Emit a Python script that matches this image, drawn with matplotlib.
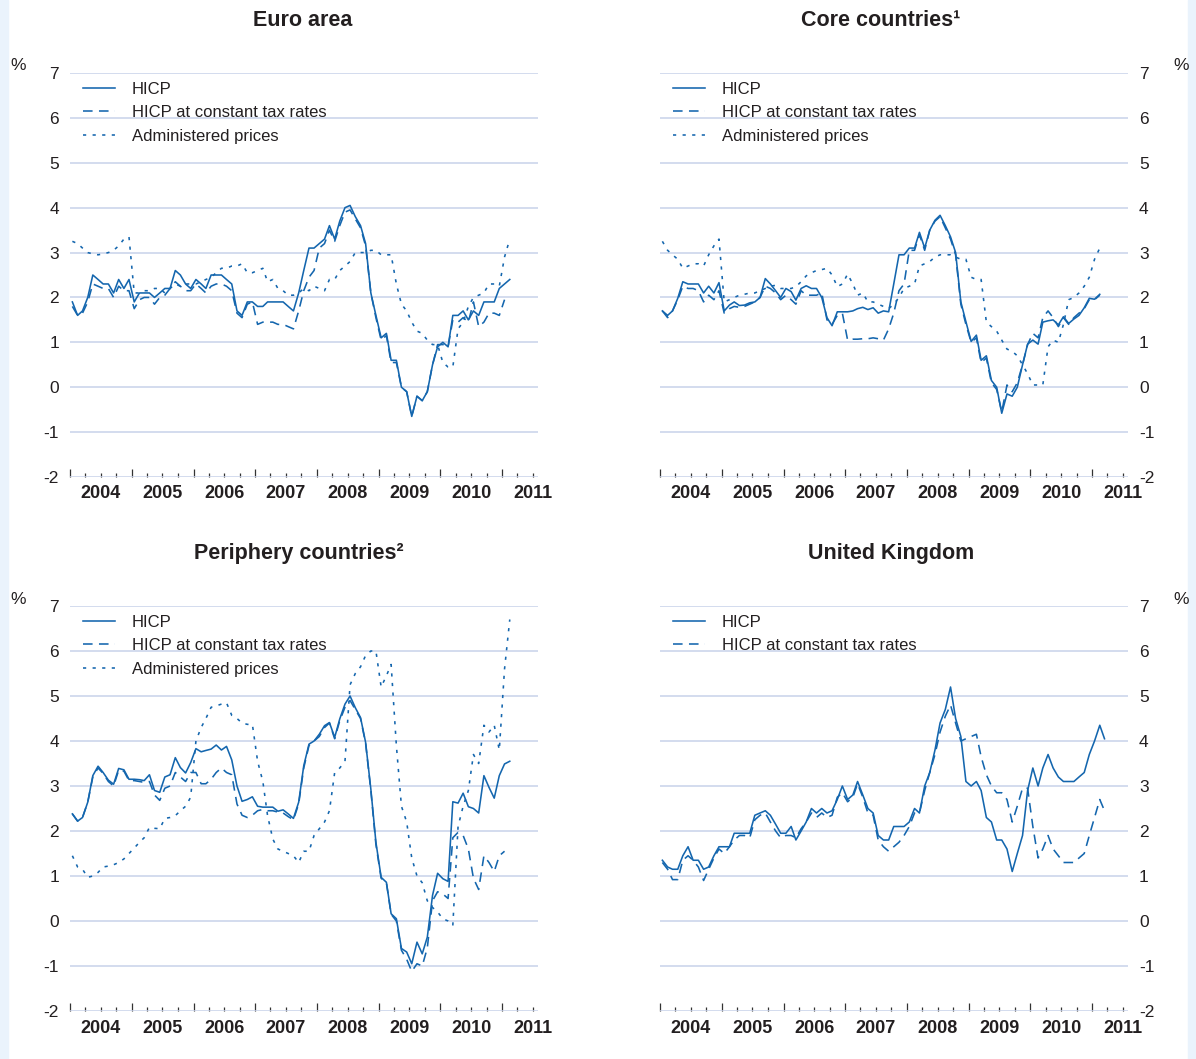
import numpy as np
import pandas as pd
import matplotlib
matplotlib.use('Agg')
import matplotlib.pyplot as plt
import matplotlib.dates as mdates
from matplotlib.patches import Rectangle
from matplotlib.transforms import blended_transform_factory

plt.rcParams['font.family'] = ['Liberation Sans', 'DejaVu Sans']
plt.rcParams['axes.unicode_minus'] = False

nan = np.nan

'''Monthly year-on-year rates, from Jan 2004'''
ea_hicp = [1.9, 1.6, 1.7, 2.0, 2.5, 2.4, 2.3, 2.3, 2.1, 2.4, 2.2, 2.4,
           1.9, 2.1, 2.1, 2.1, 2.0, 2.1, 2.2, 2.2, 2.6, 2.5, 2.3, 2.2,
           2.4, 2.3, 2.2, 2.5, 2.5, 2.5, 2.4, 2.3, 1.7, 1.6, 1.9, 1.9,
           1.8, 1.8, 1.9, 1.9, 1.9, 1.9, 1.8, 1.7, 2.1, 2.6, 3.1, 3.1,
           3.2, 3.3, 3.6, 3.3, 3.7, 4.0, 4.05, 3.8, 3.6, 3.2, 2.1, 1.6,
           1.1, 1.2, 0.6, 0.6, 0.0, -0.1, -0.65, -0.2, -0.3, -0.1, 0.5, 0.9,
           1.0, 0.9, 1.6, 1.6, 1.7, 1.5, 1.7, 1.6, 1.9, 1.9, 1.9, 2.2,
           2.3, 2.4]
ea_const = [1.8, 1.6, 1.65, 1.9, 2.3, 2.25, 2.2, 2.2, 2.0, 2.25, 2.15, 2.15,
            1.75, 1.95, 2.0, 2.0, 1.85, 2.0, 2.05, 2.2, 2.35, 2.25, 2.15, 2.15,
            2.3, 2.2, 2.1, 2.25, 2.3, 2.3, 2.25, 2.15, 1.65, 1.55, 1.85, 1.9,
            1.4, 1.45, 1.45, 1.45, 1.4, 1.4, 1.35, 1.3, 1.7, 2.15, 2.45, 2.6,
            3.1, 3.2, 3.5, 3.25, 3.6, 3.9, 3.95, 3.75, 3.55, 3.15, 2.1, 1.55,
            1.05, 1.15, 0.55, 0.55, 0.0, -0.1, -0.65, -0.2, -0.3, -0.1, 0.5, 0.95,
            0.95, 0.9, 1.5, 1.45, 1.55, 1.45, 1.9, 1.35, 1.45, 1.65, 1.65, 1.6,
            1.95, nan]
ea_admin = [3.25, 3.2, 3.1, 3.0, 2.97, 2.95, 2.97, 3.0, 3.05, 3.15, 3.3, 3.35,
            2.1, 2.1, 2.15, 2.15, 2.2, 2.2, 2.1, 2.2, 2.3, 2.25, 2.3, 2.3,
            2.3, 2.35, 2.4, 2.45, 2.55, 2.65, 2.65, 2.7, 2.7, 2.75, 2.55, 2.55,
            2.6, 2.65, 2.35, 2.4, 2.2, 2.15, 2.05, 2.05, 2.1, 2.2, 2.15, 2.25,
            2.2, 2.15, 2.4, 2.4, 2.6, 2.7, 2.8, 3.0, 3.0, 3.0, 3.05, 3.05,
            2.95, 2.95, 2.95, 2.3, 1.85, 1.7, 1.45, 1.25, 1.2, 1.05, 0.95, 0.95,
            0.55, 0.45, 0.45, 1.3, 1.45, 1.8, 2.0, 2.05, 2.1, 2.3, 2.3, 2.25,
            2.9, 3.3]

core_hicp = [1.7, 1.6, 1.7, 1.98, 2.35, 2.3, 2.3, 2.3, 2.1, 2.25, 2.1, 2.33,
             1.7, 1.83, 1.9, 1.82, 1.83, 1.88, 1.9, 2.0, 2.42, 2.3, 2.15, 2.0,
             2.2, 2.13, 1.94, 2.2, 2.26, 2.2, 2.2, 2.0, 1.55, 1.37, 1.68, 1.68,
             1.68, 1.7, 1.75, 1.78, 1.73, 1.77, 1.65, 1.7, 1.68, 2.3, 2.95, 2.95,
             3.1, 3.1, 3.45, 3.1, 3.5, 3.72, 3.83, 3.6, 3.35, 3.0, 1.9, 1.46,
             1.02, 1.16, 0.6, 0.7, 0.15, 0.0, -0.58, -0.15, -0.2, 0.0, 0.5, 0.96,
             1.05, 0.96, 1.45, 1.48, 1.5, 1.39, 1.57, 1.42, 1.52, 1.6, 1.77, 1.98,
             1.96, 2.07]
core_const = [1.7, 1.55, 1.7, 1.95, 2.25, 2.2, 2.2, 2.15, 1.9, 2.05, 1.95, 2.15,
              1.65, 1.75, 1.8, 1.78, 1.8, 1.85, 1.9, 2.0, 2.25, 2.2, 2.1, 1.95,
              2.05, 1.95, 1.85, 2.15, 2.05, 2.05, 2.05, 2.1, 1.5, 1.4, 1.6, 1.65,
              1.05, 1.07, 1.07, 1.08, 1.08, 1.1, 1.08, 1.05, 1.3, 1.65, 2.15, 2.3,
              3.05, 3.05, 3.4, 3.05, 3.5, 3.7, 3.8, 3.55, 3.3, 2.95, 1.85, 1.4,
              1.0, 1.1, 0.55, 0.65, 0.1, -0.05, -0.55, 0.05, -0.1, 0.1, 0.5, 0.95,
              1.2, 1.1, 1.55, 1.7, 1.55, 1.35, 1.55, 1.4, 1.55, 1.65, 1.75, 1.95,
              1.95, 2.05]
core_admin = [3.25, 3.05, 2.95, 2.85, 2.65, 2.7, 2.75, 2.75, 2.7, 2.95, 3.15, 3.3,
              1.9, 1.95, 2.0, 2.05, 2.07, 2.1, 2.1, 2.15, 2.2, 2.25, 2.27, 2.2,
              2.2, 2.2, 2.24, 2.35, 2.48, 2.55, 2.6, 2.62, 2.65, 2.5, 2.24, 2.3,
              2.52, 2.3, 2.05, 2.1, 1.9, 1.9, 1.85, 1.8, 1.75, 1.85, 2.0, 2.2,
              2.25, 2.3, 2.7, 2.75, 2.8, 2.9, 2.95, 2.95, 2.95, 2.9, 2.85, 2.85,
              2.45, 2.4, 2.4, 1.45, 1.35, 1.25, 1.05, 0.85, 0.8, 0.7, 0.5, 0.3,
              0.05, 0.05, 0.05, 0.9, 1.05, 1.0, 1.4, 1.95, 2.0, 2.1, 2.25, 2.45,
              2.85, 3.1]

per_hicp = [2.38, 2.22, 2.3, 2.64, 3.23, 3.44, 3.3, 3.13, 3.04, 3.39, 3.36, 3.15,
            3.15, 3.14, 3.12, 3.25, 2.9, 2.86, 3.2, 3.25, 3.63, 3.41, 3.29, 3.52,
            3.83, 3.76, 3.79, 3.82, 3.91, 3.8, 3.88, 3.58, 3.0, 2.66, 2.7, 2.76,
            2.55, 2.53, 2.53, 2.53, 2.44, 2.47, 2.38, 2.28, 2.64, 3.45, 3.93, 4.0,
            4.15, 4.34, 4.41, 4.08, 4.49, 4.82, 5.0, 4.74, 4.52, 3.97, 2.93, 1.75,
            0.97, 0.86, 0.16, 0.05, -0.61, -0.69, -0.95, -0.47, -0.73, -0.36, 0.57, 1.06,
            0.94, 0.88, 2.65, 2.62, 2.84, 2.54, 2.5, 2.4, 3.23, 2.97, 2.73, 3.23,
            3.49, 3.55]
per_const = [2.38, 2.22, 2.3, 2.64, 3.2, 3.4, 3.28, 3.1, 3.0, 3.35, 3.33, 3.12,
             3.12, 3.1, 3.08, 3.1, 2.8, 2.68, 2.95, 3.0, 3.3, 3.2, 3.1, 3.3,
             3.3, 3.05, 3.05, 3.15, 3.3, 3.4, 3.3, 3.25, 2.6, 2.35, 2.3, 2.35,
             2.45, 2.48, 2.45, 2.45, 2.42, 2.4, 2.32, 2.25, 2.6, 3.4, 3.9, 4.0,
             4.1, 4.3, 4.4, 4.05, 4.45, 4.75, 4.9, 4.7, 4.5, 3.95, 2.9, 1.7,
             0.95, 0.85, 0.15, 0.0, -0.65, -0.85, -1.12, -0.95, -1.0, -0.6, 0.45, 0.65,
             0.6, 0.5, 1.85, 1.97, 1.9, 1.6, 0.95, 0.7, 1.45, 1.3, 1.1, 1.45,
             1.55, nan]
per_admin = [1.45, 1.2, 1.15, 0.97, 1.0, 1.08, 1.2, 1.22, 1.25, 1.3, 1.38, 1.5,
             1.62, 1.75, 1.85, 2.08, 2.06, 2.05, 2.28, 2.3, 2.34, 2.45, 2.55, 2.75,
             4.0, 4.3, 4.5, 4.75, 4.78, 4.82, 4.85, 4.57, 4.5, 4.4, 4.37, 4.37,
             3.55, 3.1, 2.34, 1.82, 1.6, 1.55, 1.5, 1.45, 1.3, 1.55, 1.55, 1.9,
             2.05, 2.2, 2.45, 3.3, 3.4, 3.55, 5.25, 5.5, 5.65, 5.9, 6.0, 6.0,
             5.2, 5.45, 5.7, 3.9, 2.55, 2.2, 1.4, 1.0, 0.85, 0.45, 0.3, 0.2,
             0.05, 0.0, -0.1, 2.1, 2.55, 2.9, 3.7, 3.5, 4.35, 4.2, 4.35, 3.8,
             5.6, 6.7]

uk_hicp = [1.35, 1.2, 1.15, 1.15, 1.45, 1.65, 1.35, 1.35, 1.15, 1.2, 1.45, 1.65,
           1.65, 1.65, 1.95, 1.95, 1.95, 1.95, 2.35, 2.4, 2.45, 2.35, 2.15, 1.95,
           1.95, 2.1, 1.8, 2.0, 2.2, 2.5, 2.4, 2.5, 2.4, 2.45, 2.7, 3.0,
           2.7, 2.8, 3.1, 2.8, 2.5, 2.4, 1.9, 1.8, 1.8, 2.1, 2.1, 2.1,
           2.2, 2.5, 2.4, 3.0, 3.3, 3.8, 4.4, 4.7, 5.2, 4.5, 4.1, 3.1,
           3.0, 3.1, 2.9, 2.3, 2.2, 1.8, 1.8, 1.6, 1.1, 1.5, 1.9, 2.9,
           3.4, 3.0, 3.4, 3.7, 3.4, 3.2, 3.1, 3.1, 3.1, 3.2, 3.3, 3.7,
           4.0, 4.35, 4.05]
uk_const = [1.3, 1.15, 0.92, 0.92, 1.35, 1.45, 1.35, 1.2, 0.9, 1.15, 1.4, 1.6,
            1.5, 1.65, 1.8, 1.9, 1.9, 1.85, 2.25, 2.35, 2.4, 2.2, 2.0, 1.85,
            1.9, 1.9, 1.85, 2.05, 2.2, 2.4, 2.3, 2.4, 2.3, 2.35, 2.75, 2.85,
            2.65, 2.75, 3.05, 2.75, 2.4, 2.35, 1.8, 1.65, 1.55, 1.65, 1.75, 1.9,
            2.1, 2.4, 2.4, 2.9, 3.3, 3.7, 4.2, 4.55, 4.8, 4.4, 4.0, 4.05,
            4.1, 4.15, 3.65, 3.25, 3.0, 2.85, 2.85, 2.7, 2.2, 2.55, 2.95, 2.95,
            2.1, 1.4, 1.6, 1.9, 1.6, 1.45, 1.3, 1.3, 1.3, 1.4, 1.5, 1.9,
            2.3, 2.7, 2.45]

labels = ['HICP', 'HICP at constant tax rates', 'Administered prices']
styles = ['-', (0, (6, 4)), (0, (2, 4))]
years = list(range(2004, 2012))

BLUE = '#1466ae'
GRID = '#c8d2ea'
TXT = '#231f20'
W, H = 1196, 1059

fig = plt.figure(figsize=(W / 100, H / 100), dpi=100)
fig.patch.set_facecolor('white')
fig.add_artist(Rectangle((0, 0), 8 / W, 1, transform=fig.transFigure, color='#eaf3fc', zorder=0))
fig.add_artist(Rectangle(((W - 8) / W, 0), 8 / W, 1, transform=fig.transFigure, color='#eaf3fc', zorder=0))


def panel(left, top, bottom, title, title_x, series, right_side=False):
    ax = fig.add_axes([left / W, 1 - bottom / H, 468 / W, (bottom - top) / H])
    for i, s in enumerate(series):
        x = pd.date_range('2004-01-01', periods=len(s), freq='MS') + pd.Timedelta(days=14)
        ax.plot(x, s, color=BLUE, lw=1.15, ls=styles[i], label=labels[i])
    ax.set_xlim(pd.Timestamp('2004-01-01'), pd.Timestamp('2011-08-01'))
    ax.set_ylim(-2, 7)
    ax.set_yticks(range(-2, 8))
    ax.grid(axis='y', color=GRID, lw=1.1)
    ax.set_axisbelow(True)
    for sp in ax.spines.values():
        sp.set_visible(False)
    ax.xaxis.set_major_locator(mdates.YearLocator())
    ax.xaxis.set_minor_locator(mdates.MonthLocator(bymonth=[4, 7, 10]))
    ax.tick_params(axis='x', which='major', direction='in', length=5.8, width=0.9,
                   color='#333333', labelbottom=False)
    ax.tick_params(axis='x', which='minor', direction='in', length=3.0, width=0.9,
                   color='#333333')
    ax.tick_params(axis='y', length=0, labelsize=12.5, colors=TXT, pad=8)
    if right_side:
        ax.yaxis.tick_right()
        ax.tick_params(axis='y', length=0, pad=8)
    tr = blended_transform_factory(ax.transData, ax.transAxes)
    for yr in years:
        ax.text(pd.Timestamp(yr, 7, 1), -0.042, str(yr), transform=tr, ha='center',
                va='center', fontsize=13, fontweight='bold', color=TXT)
    ax.legend(loc='upper left', bbox_to_anchor=(0.027, 0.978), frameon=False,
              fontsize=12, handlelength=1.95, handletextpad=1.0, labelspacing=0.5,
              borderaxespad=0, borderpad=0, labelcolor=TXT)
    fig.text(title_x / W, 1 - (top - 53) / H, title, ha='center', va='center',
             fontsize=15.5, fontweight='bold', color=TXT)
    px = 1181 if right_side else 18
    fig.text(px / W, 1 - (top - 7) / H, '%', ha='center', va='center', fontsize=12.5, color=TXT)
    return ax


panel(70, 73, 477, 'Euro area', 303, [ea_hicp, ea_const, ea_admin])
panel(660, 73, 477, 'Core countries\u00b9', 881, [core_hicp, core_const, core_admin], right_side=True)
panel(70, 606, 1011, 'Periphery countries\u00b2', 299, [per_hicp, per_const, per_admin])
panel(660, 606, 1011, 'United Kingdom', 891, [uk_hicp, uk_const], right_side=True)

plt.savefig('out.png', dpi=100)
